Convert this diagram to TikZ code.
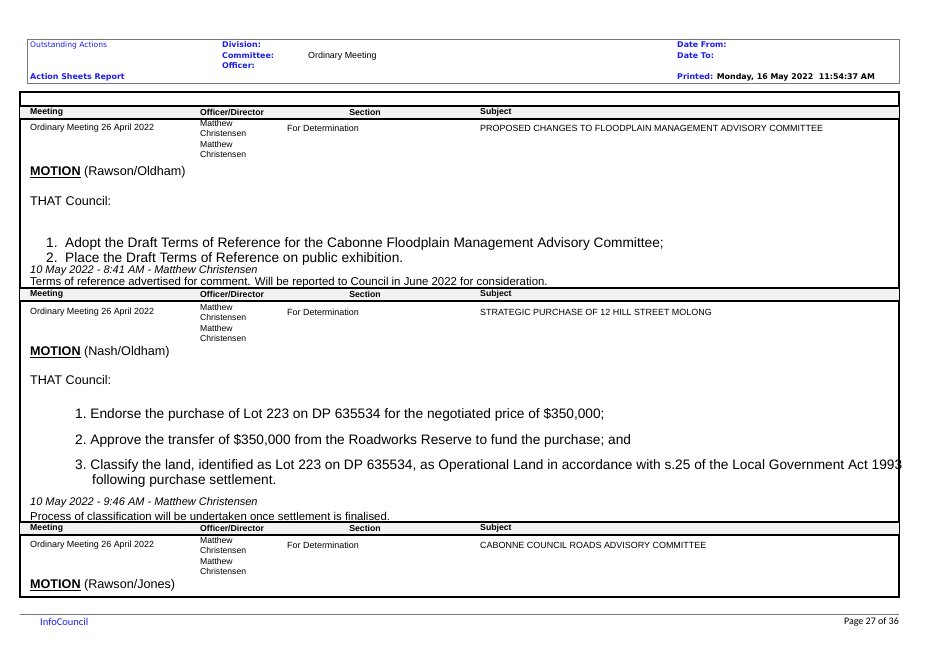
\documentclass[tikz,border=0pt]{standalone}
\usepackage{fontspec}
\setmainfont{Liberation Sans}
\newfontfamily\hdrfont{DejaVu Sans}
\newfontfamily\footfont{Carlito}
\usetikzlibrary{positioning}
\definecolor{linkblue}{RGB}{30,30,230}
\definecolor{bandgray}{RGB}{242,242,242}
\definecolor{rulegray}{RGB}{120,120,120}
\newcommand{\mtn}{\underline{\textbf{MOTION}}}

\begin{document}
\begin{tikzpicture}[x=1pt,y=-1pt,
  hdr/.style={anchor=west, inner sep=0pt, font=\hdrfont\fontsize{7.9}{8}\selectfont\bfseries, text=linkblue},
  hdrval/.style={anchor=west, inner sep=0pt, font=\fontsize{8.9}{9}\selectfont},
  colhead/.style={anchor=west, inner sep=0pt, font=\fontsize{8.7}{9}\selectfont\bfseries},
  cell/.style={anchor=west, inner sep=0pt, font=\fontsize{8.95}{9}\selectfont},
  officer/.style={anchor=north west, inner sep=0pt, align=left, font=\fontsize{8.6}{10.4}\selectfont},
  big/.style={anchor=west, inner sep=0pt, font=\fontsize{12.6}{15}\selectfont},
  item/.style={anchor=west, inner sep=0pt, font=\fontsize{13.7}{15}\selectfont},
  note/.style={anchor=west, inner sep=0pt, font=\fontsize{11.4}{12}\selectfont},
  band/.style={fill=bandgray},
  thickrule/.style={line width=1.6pt}
]
  \useasboundingbox (0,0) rectangle (939,664);

  % Report header box
  \draw[rulegray, line width=0.8pt] (27,39) rectangle (899,83);
  \node[hdr, font=\hdrfont\fontsize{7.6}{8}\selectfont] (outst) at (30,45) {Outstanding Actions};
  \node[hdr] (asr) at (30,77) {Action Sheets Report};
  \node[hdr] (div) at (222,45) {Division:};
  \node[hdr] (comm) at (222,56) {Committee:};
  \node[hdr] (offc) at (222,66) {Officer:};
  \node[hdrval] (commval) at (308,56) {Ordinary Meeting};
  \node[hdr] (dfrom) at (677,45) {Date From:};
  \node[hdr] (dto) at (677,56) {Date To:};
  \node[hdr] (printed) at (677,77) {Printed: \textcolor{black}{Monday, 16 May 2022\ \ 11:54:37 AM}};

  % Table frame
  \draw[thickrule] (20,92) rectangle (899,597);
  \draw[thickrule] (20,106) -- (899,106);

  % Column header bands
  \foreach \yb in {106,288,522}{
    \fill[band] (20,\yb) rectangle (899,\yb+13);
    \draw[thickrule] (20,\yb) -- (899,\yb);
    \draw[thickrule] (20,\yb+13) -- (899,\yb+13);
    \node[colhead] at (30,\yb+6.5) {Meeting};
    \node[colhead] at (200,\yb+6.5) {Officer/Director};
    \node[colhead, anchor=center] at (365,\yb+6.5) {Section};
    \node[colhead] at (480,\yb+6.5) {Subject};
  }

  % Data rows
  \foreach \yr/\subj in {128/{PROPOSED CHANGES TO FLOODPLAIN MANAGEMENT ADVISORY COMMITTEE},
                         312/{STRATEGIC PURCHASE OF 12 HILL STREET MOLONG},
                         545/{CABONNE COUNCIL ROADS ADVISORY COMMITTEE}}{
    \node[cell] at (30,\yr) {Ordinary Meeting 26 April 2022};
    \node[officer] at (200,\yr-8) {Matthew\\Christensen\\Matthew\\Christensen};
    \node[cell] at (287,\yr) {For Determination};
    \node[cell] at (480,\yr) {\subj};
  }

  % First action
  \node[big] (mot1) at (30,172) {\mtn{} (Rawson/Oldham)};
  \node[big] (that1) at (30,201) {THAT Council:};
  \node[item] (i11) at (46,244) {1.\ \ Adopt the Draft Terms of Reference for the Cabonne Floodplain Management Advisory Committee;};
  \node[item] (i12) at (46,259) {2.\ \ Place the Draft Terms of Reference on public exhibition.};
  \node[note, font=\fontsize{11}{12}\selectfont\itshape] (n1a) at (30,271) {10 May 2022 - 8:41 AM - Matthew Christensen};
  \node[note] (n1b) at (30,283) {Terms of reference advertised for comment. Will be reported to Council in June 2022 for consideration.};

  % Second action
  \node[big] (mot2) at (30,352) {\mtn{} (Nash/Oldham)};
  \node[big] (that2) at (30,380) {THAT Council:};
  \node[item] (i21) at (75,415) {1.\ Endorse the purchase of Lot 223 on DP 635534 for the negotiated price of \$350,000;};
  \node[item] (i22) at (75,441) {2.\ Approve the transfer of \$350,000 from the Roadworks Reserve to fund the purchase; and};
  \node[item] (i23) at (75,466) {3.\ Classify the land, identified as Lot 223 on DP 635534, as Operational Land in accordance with s.25 of the Local Government Act 1993};
  \node[item] (i23b) at (92,481) {following purchase settlement.};
  \node[note, font=\fontsize{11}{12}\selectfont\itshape] (n2a) at (30,503) {10 May 2022 - 9:46 AM - Matthew Christensen};
  \node[note] (n2b) at (30,516) {Process of classification will be undertaken once settlement is finalised.};

  % Third action
  \node[big] (mot3) at (30,585) {\mtn{} (Rawson/Jones)};

  % Footer
  \draw[rulegray, line width=0.8pt] (20,614) -- (899,614);
  \node[anchor=west, inner sep=0pt, font=\footfont\fontsize{10.5}{12}\selectfont, text=linkblue] (infoc) at (40,622) {InfoCouncil};
  \node[anchor=east, inner sep=0pt, font=\footfont\fontsize{10}{12}\selectfont] (pg) at (899,622) {Page 27 of 36};
\end{tikzpicture}
\end{document}
